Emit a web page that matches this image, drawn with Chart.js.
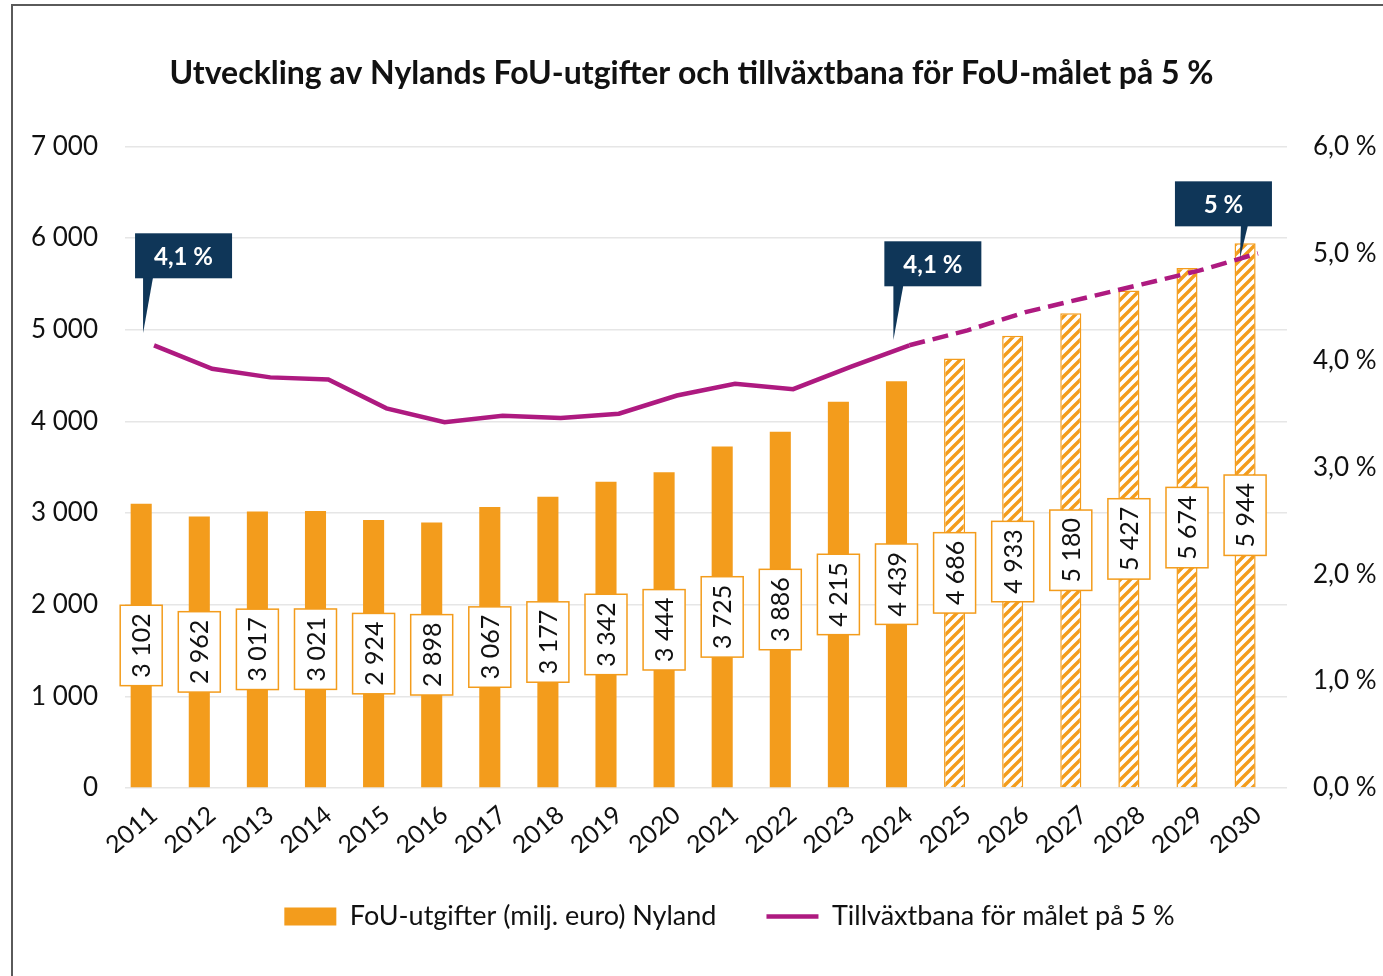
<!DOCTYPE html>
<html>
<head>
<meta charset="utf-8">
<script src="https://cdn.jsdelivr.net/npm/chart.js@4.4.0/dist/chart.umd.min.js"></script>
<style>
html, body { margin: 0; padding: 0; background: #fff; }
#wrap { position: relative; width: 1383px; height: 976px; overflow: hidden; }
#chart { position: absolute; left: 0; top: 0; }
#frame { position: absolute; left: 11px; top: 4px; width: 1400px; height: 1000px; border: 2px solid #5a5a5a; pointer-events: none; }
</style>
</head>
<body>
<div id="wrap">
  <canvas id="chart" width="1383" height="976"></canvas>
  <div id="frame"></div>
</div>
<script>
// data
const years = ['2011', '2012', '2013', '2014', '2015', '2016', '2017', '2018', '2019', '2020',
               '2021', '2022', '2023', '2024', '2025', '2026', '2027', '2028', '2029', '2030'];
const fouActual = [3102, 2962, 3017, 3021, 2924, 2898, 3067, 3177, 3342, 3444,
                   3725, 3886, 4215, 4439, null, null, null, null, null, null];
const fouTarget = [null, null, null, null, null, null, null, null, null, null,
                   null, null, null, null, 4686, 4933, 5180, 5427, 5674, 5944];
const growthPath = [4.14, 3.92, 3.84, 3.82, 3.55, 3.42, 3.48, 3.46, 3.50, 3.67,
                    3.78, 3.73, 3.94, 4.14, 4.28, 4.45, 4.58, 4.71, 4.84, 5.0];
const calloutIdx = [0, 13, 19];
const calloutText = ['4,1 %', '4,1 %', '5 %'];
const leftTicks = [0, 1000, 2000, 3000, 4000, 5000, 6000, 7000];
const rightTicks = [0, 1, 2, 3, 4, 5, 6];

const ORANGE = '#f39c1c';
const PURPLE = '#ae1a80';
const NAVY = '#0f3658';
const FONT = 'Lato';

const lastActual = fouActual.reduce((a, v, i) => v != null ? i : a, 0);

function thousands(v) {
    return String(v).replace(/\B(?=(\d{3})+(?!\d))/g, ' ');
}

// hatch for the target bars
function hatch() {
    const s = 10;
    const c = document.createElement('canvas');
    c.width = s; c.height = s;
    const g = c.getContext('2d');
    g.fillStyle = '#fff';
    g.fillRect(0, 0, s, s);
    g.strokeStyle = ORANGE;
    g.lineWidth = 3.4;
    g.beginPath();
    g.moveTo(0, s); g.lineTo(s, 0);
    g.moveTo(-s / 2, s / 2); g.lineTo(s / 2, -s / 2);
    g.moveTo(s / 2, s * 1.5); g.lineTo(s * 1.5, s / 2);
    g.stroke();
    return g.createPattern(c, 'repeat');
}

// white boxes with the value, turned 90 degrees, in the middle of each bar
const valueBoxes = {
    id: 'valueBoxes',
    afterDatasetsDraw(chart) {
        const ctx = chart.ctx;
        ctx.save();
        ctx.font = '400 25px ' + FONT;
        [0, 1].forEach(di => {
            const meta = chart.getDatasetMeta(di);
            const data = chart.data.datasets[di].data;
            meta.data.forEach((bar, i) => {
                if (data[i] == null) return;
                const txt = thousands(data[i]);
                const len = ctx.measureText(txt).width + 16;
                const thick = 42;
                ctx.save();
                ctx.translate(bar.x, (bar.y + bar.base) / 2);
                ctx.rotate(-Math.PI / 2);
                ctx.fillStyle = '#fff';
                ctx.fillRect(-len / 2, -thick / 2, len, thick);
                ctx.strokeStyle = ORANGE;
                ctx.lineWidth = 1.5;
                ctx.strokeRect(-len / 2, -thick / 2, len, thick);
                ctx.fillStyle = '#111';
                ctx.textAlign = 'center';
                ctx.textBaseline = 'middle';
                ctx.fillText(txt, 0, 1);
                ctx.restore();
            });
        });
        ctx.restore();
    }
};

// navy callouts pointing at the line
const callouts = {
    id: 'callouts',
    afterDraw(chart, args, opts) {
        const ctx = chart.ctx;
        const meta = chart.getDatasetMeta(3);
        ctx.save();
        calloutIdx.forEach((idx, k) => {
            const pt = meta.data[idx];
            const g = opts.geom[k];
            const tx = pt.x + g.tip[0], ty = pt.y + g.tip[1];
            const bx = tx + g.box[0], bb = ty + g.box[1];
            const w = 97, h = 45;
            ctx.fillStyle = NAVY;
            ctx.fillRect(bx, bb - h, w, h);
            ctx.beginPath();
            ctx.moveTo(tx + g.base[0], bb - 1);
            ctx.lineTo(tx + g.base[1], bb - 1);
            ctx.lineTo(tx, ty);
            ctx.closePath();
            ctx.fill();
            ctx.fillStyle = '#fff';
            ctx.font = '700 24px ' + FONT;
            ctx.textAlign = 'center';
            ctx.textBaseline = 'middle';
            ctx.fillText(calloutText[k], bx + w / 2, bb - h / 2 + 1);
        });
        ctx.restore();
    }
};

const legendShift = {
    id: 'legendShift',
    beforeDraw(chart) {
        chart.legend.left += 38;
        chart.legend.right += 38;
    }
};

const ctx = document.getElementById('chart').getContext('2d');
new Chart(ctx, {
    data: {
        labels: years,
        datasets: [
            {
                type: 'bar',
                label: 'FoU-utgifter (milj. euro) Nyland',
                data: fouActual,
                backgroundColor: ORANGE,
                borderWidth: 0,
                stack: 'fou',
                order: 1,
                pointStyle: 'rect',
                barPercentage: 0.82,
                categoryPercentage: 0.885
            },
            {
                type: 'bar',
                label: 'target',
                data: fouTarget,
                backgroundColor: hatch(),
                borderColor: ORANGE,
                borderWidth: 1.5,
                stack: 'fou',
                order: 1,
                barPercentage: 0.82,
                categoryPercentage: 0.885
            },
            {
                type: 'bar',
                label: 'spacer',
                data: years.map(() => null),
                stack: 'spacer',
                order: 1,
                barPercentage: 0.82,
                categoryPercentage: 0.885
            },
            {
                type: 'line',
                label: 'Tillväxtbana för målet på 5 %',
                data: growthPath,
                yAxisID: 'y1',
                borderColor: PURPLE,
                backgroundColor: PURPLE,
                borderWidth: 4.5,
                pointRadius: 0,
                pointStyle: 'line',
                tension: 0,
                order: 0,
                segment: {
                    borderDash: c => c.p0DataIndex >= lastActual ? [16, 8] : undefined
                }
            }
        ]
    },
    options: {
        responsive: false,
        animation: false,
        layout: { padding: { left: 0, right: 0, top: 0, bottom: 36 } },
        scales: {
            x: {
                stacked: true,
                grid: { display: false },
                border: { display: false },
                ticks: {
                    color: '#111',
                    font: { family: FONT, size: 25 },
                    maxRotation: 40,
                    minRotation: 40,
                    padding: 4
                },
                afterFit: s => { s.height = 65; }
            },
            y: {
                stacked: true,
                min: 0,
                max: 7000,
                afterBuildTicks: s => { s.ticks = leftTicks.map(v => ({ value: v })); },
                grid: { color: '#e6e6e6', lineWidth: 1.5, drawTicks: false },
                border: { display: false },
                ticks: {
                    color: '#111',
                    padding: 27,
                    font: { family: FONT, size: 26 },
                    callback: v => thousands(v)
                },
                afterFit: s => { s.width = 125; }
            },
            y1: {
                position: 'right',
                min: 0,
                max: 6,
                afterBuildTicks: s => { s.ticks = rightTicks.map(v => ({ value: v })); },
                grid: { drawOnChartArea: false, drawTicks: false },
                border: { display: false },
                ticks: {
                    color: '#111',
                    padding: 26,
                    font: { family: FONT, size: 26 },
                    callback: v => v.toFixed(1).replace('.', ',') + ' %'
                },
                afterFit: s => { s.width = 96; }
            }
        },
        plugins: {
            title: {
                display: true,
                text: 'Utveckling av Nylands FoU-utgifter och tillväxtbana för FoU-målet på 5 %',
                color: '#111',
                font: { family: FONT, size: 32, weight: '700' },
                padding: { top: 54, bottom: 54 }
            },
            legend: {
                position: 'bottom',
                labels: {
                    usePointStyle: true,
                    pointStyleWidth: 52,
                    boxHeight: 18,
                    padding: 50,
                    color: '#111',
                    font: { family: FONT, size: 27 },
                    filter: item => item.datasetIndex === 0 || item.datasetIndex === 3,
                    sort: (a, b) => a.datasetIndex - b.datasetIndex
                }
            },
            tooltip: { enabled: false },
            callouts: {
                geom: [
                    { tip: [-11, -12], box: [-8, -55], base: [0, 10] },
                    { tip: [-16, -5], box: [-9, -54], base: [0, 10] },
                    { tip: [-18, 5], box: [-65, -32], base: [1, 8] }
                ]
            }
        }
    },
    plugins: [valueBoxes, callouts, legendShift]
});
</script>
</body>
</html>
